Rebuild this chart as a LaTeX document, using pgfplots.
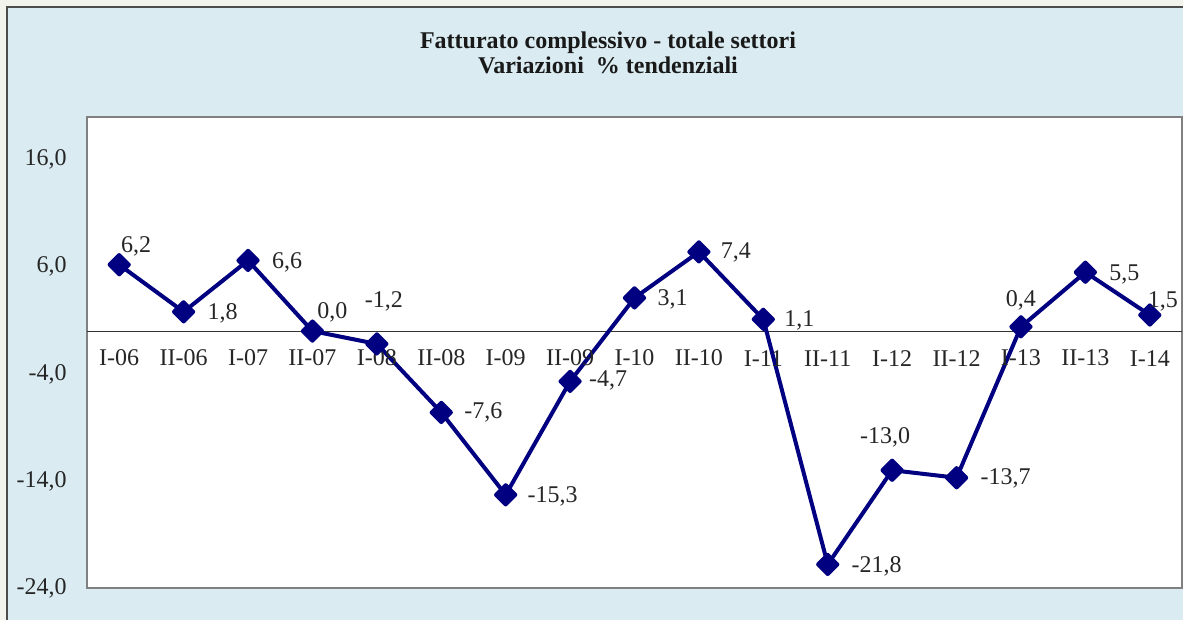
\documentclass[border=0pt]{standalone}
\usepackage{pgfplots}
\pgfplotsset{compat=1.18}
\usepackage{pgfplotstable}
\usepackage{fontspec}
\setmainfont{Liberation Serif}

\definecolor{sfondo}{HTML}{DAECF2}
\definecolor{pagina}{HTML}{F3F3EE}
\definecolor{serie}{RGB}{0,0,128}
\definecolor{cornice}{HTML}{808080}

% valori e spostamento delle etichette (pt)
\pgfplotstableread{
x  y     dx    dy
0  6.2   8.5   9
1  1.8   19.5  -1
2  6.6   19.5  -1
3  0.0   10    9.5
4  -1.2  3.5   21.5
5  -7.6  21    0
6  -15.3 23.5  -1
7  -4.7  19    0.5
8  3.1   19    -0.5
9  7.4   18.5  -0.5
10 1.1   18    -0.5
11 -21.8 24.5  -1
12 -13.0 -3.5  16.5
13 -13.7 24.5  -0.5
14 0.4   0     13
15 5.5   19.5  -1
16 1.5   6.5   7
}\fatturato

\pgfplotstableread{
x  y lab
0  0 I-06
1  0 II-06
2  0 I-07
3  0 II-07
4  0 I-08
5  0 II-08
6  0 I-09
7  0 II-09
8  0 I-10
9  0 II-10
10 0 I-11
11 0 II-11
12 0 I-12
13 0 II-12
14 0 I-13
15 0 II-13
16 0 I-14
}\periodi

\begin{document}
\fontsize{12}{14}\selectfont
\begin{tikzpicture}[x=1pt,y=1pt]
\useasboundingbox (0,0) rectangle (591.5,310);
\fill[pagina] (0,0) rectangle (591.5,310);
\fill[sfondo] (3.5,0) rectangle (591.5,306.5);
\draw[black!70, line width=0.8pt] (3.5,0) -- (3.5,306.5) -- (591.5,306.5);

\node[align=center, font=\fontsize{12}{12.5}\selectfont\bfseries, text=black!90]
  at (304,283.5) {Fatturato complessivo - totale settori\\Variazioni \ \% tendenziali};

\begin{axis}[
    at={(43.5pt,16pt)}, anchor=south west,
    scale only axis,
    width=547.5pt, height=235.5pt,
    xmin=-0.5, xmax=16.5,
    ymin=-24, ymax=20,
    xtick=\empty,
    ytick={-24,-14,-4,6,16},
    major tick length=0pt,
    /pgf/number format/assume math mode=true,
    yticklabel style={
        /pgf/number format/fixed,
        /pgf/number format/fixed zerofill,
        /pgf/number format/precision=1,
        /pgf/number format/use comma,
        text=black!85, xshift=-6pt},
    axis background/.style={fill=white},
    axis line style={draw=cornice, line width=0.8pt},
    clip=false,
]
% linea dello zero
\addplot[black!80, line width=0.5pt, mark=none] coordinates {(-0.5,0) (16.5,0)};

% etichette dei semestri
\addplot[draw=none, mark=none, point meta=explicit symbolic,
    nodes near coords,
    every node near coord/.append style={anchor=center, yshift=-13.5pt, text=black!85}]
    table[x=x, y=y, meta=lab] {\periodi};

\addplot[serie, line width=2pt, line join=round,
    mark=square*, mark size=3.4pt,
    mark options={rotate=45, solid, fill=serie},
    point meta=y,
    nodes near coords={\pgfmathprintnumber[fixed,fixed zerofill,precision=1,use comma]{\pgfplotspointmeta}},
    visualization depends on={\thisrow{dx} \as \dx},
    visualization depends on={\thisrow{dy} \as \dy},
    every node near coord/.append style={anchor=center, xshift=\dx pt, yshift=\dy pt, text=black!85}]
    table[x=x, y=y] {\fatturato};
\end{axis}
\end{tikzpicture}
\end{document}
